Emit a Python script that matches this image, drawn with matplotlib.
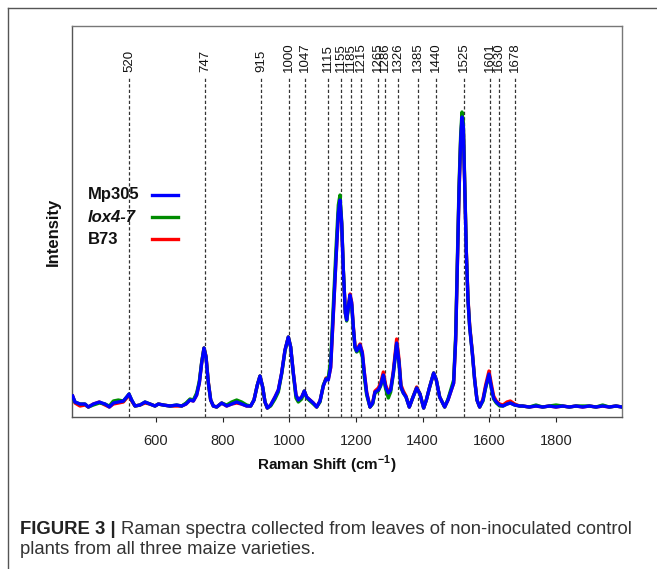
import matplotlib
matplotlib.use("Agg")
import matplotlib.pyplot as plt
from matplotlib.lines import Line2D
import matplotlib.transforms as mtransforms

plt.rcParams["font.family"] = ["Liberation Sans", "DejaVu Sans"]
plt.rcParams["mathtext.fontset"] = "custom"
plt.rcParams["mathtext.rm"] = "Liberation Sans"
plt.rcParams["mathtext.bf"] = "Liberation Sans:bold"

# Raman shift grid (cm-1) and intensities (a.u.)
shift = [350, 357, 372, 387, 397, 412, 430, 447, 460, 472, 487, 502, 512, 519, 527,
         537, 552, 567, 582, 597, 607, 622, 642, 662, 677, 690, 702, 712, 722, 730,
         737, 744, 750, 757, 764, 772, 782, 797, 812, 827, 842, 857, 872, 884, 894,
         904, 912, 920, 927, 934, 944, 957, 967, 977, 987, 997, 1004, 1012, 1020, 1027,
         1037, 1045, 1052, 1062, 1072, 1082, 1092, 1102, 1110, 1117, 1124, 1132, 1140, 1147, 1152,
         1157, 1162, 1168, 1172, 1177, 1182, 1187, 1192, 1197, 1202, 1212, 1219, 1225, 1232, 1242,
         1250, 1257, 1267, 1274, 1282, 1289, 1297, 1304, 1312, 1322, 1329, 1335, 1342, 1350, 1360,
         1370, 1382, 1392, 1403, 1411, 1421, 1433, 1441, 1451, 1466, 1476, 1486, 1493, 1499, 1504,
         1509, 1514, 1518, 1522, 1526, 1531, 1536, 1541, 1549, 1556, 1563, 1571, 1581, 1589, 1599,
         1606, 1613, 1621, 1631, 1641, 1653, 1663, 1676, 1691, 1700, 1720, 1740, 1760, 1780, 1800,
         1820, 1840, 1860, 1880, 1900, 1920, 1940, 1960, 1980, 1998]

mp305 = [21, 15, 13, 13, 10, 13, 15, 13, 10, 14, 15, 16, 20, 23, 17,
         11, 12, 15, 13, 11, 13, 12, 11, 12, 11, 13, 17, 16, 22, 34,
         54, 69, 60, 34, 17, 11, 10, 14, 11, 13, 15, 13, 11, 11, 17,
         32, 41, 30, 15, 9, 12, 20, 27, 44, 67, 80, 70, 44, 22, 17,
         20, 26, 20, 17, 14, 10, 16, 31, 38, 37, 50, 104, 160, 204, 217,
         194, 147, 104, 97, 110, 122, 114, 90, 70, 66, 72, 64, 44, 24, 10,
         14, 25, 27, 32, 42, 30, 24, 27, 44, 74, 55, 30, 24, 20, 10,
         19, 29, 23, 9, 17, 30, 44, 37, 20, 10, 17, 27, 34, 77, 150,
         224, 277, 300, 290, 234, 164, 117, 90, 64, 37, 17, 10, 17, 30, 43,
         30, 19, 15, 12, 11, 13, 14, 12, 11, 11, 10, 11, 10, 11, 10,
         11, 10, 11, 10, 11, 10, 11, 10, 11, 10]

lox4_7 = [20, 15, 13, 13, 10, 12, 14, 13, 11, 16, 17, 16, 20, 23, 17,
          11, 12, 15, 13, 11, 13, 12, 11, 12, 11, 14, 18, 17, 24, 36,
          55, 69, 60, 34, 17, 11, 10, 14, 12, 15, 17, 15, 12, 11, 17,
          32, 41, 30, 15, 9, 11, 18, 25, 43, 66, 80, 70, 43, 19, 15,
          18, 26, 19, 16, 13, 10, 15, 32, 38, 40, 56, 112, 168, 212, 222,
          196, 148, 104, 96, 108, 120, 112, 88, 69, 65, 68, 60, 40, 22, 10,
          13, 24, 26, 31, 41, 28, 19, 25, 43, 73, 54, 29, 24, 20, 10,
          19, 29, 23, 9, 17, 30, 44, 37, 20, 10, 18, 29, 37, 82, 157,
          230, 282, 305, 295, 236, 165, 117, 90, 64, 37, 17, 10, 16, 29, 42,
          29, 18, 14, 11, 11, 13, 14, 12, 11, 11, 10, 12, 10, 11, 12,
          11, 10, 11, 11, 11, 10, 12, 10, 11, 10]

b73 = [21, 14, 11, 12, 10, 13, 15, 12, 10, 13, 14, 15, 19, 22, 16,
       11, 12, 14, 13, 11, 13, 12, 11, 11, 11, 13, 17, 16, 22, 34,
       54, 69, 61, 35, 17, 11, 10, 14, 11, 13, 14, 13, 11, 11, 17,
       32, 41, 30, 15, 9, 12, 20, 27, 44, 67, 80, 70, 44, 22, 17,
       20, 26, 20, 17, 14, 10, 16, 31, 39, 38, 49, 102, 158, 202, 215,
       193, 147, 104, 98, 111, 123, 115, 91, 71, 67, 73, 65, 45, 25, 10,
       14, 26, 29, 34, 45, 32, 25, 28, 46, 78, 58, 32, 26, 21, 10,
       19, 30, 23, 9, 17, 30, 44, 37, 20, 10, 17, 27, 34, 76, 148,
       222, 275, 298, 290, 236, 166, 119, 92, 65, 38, 17, 10, 18, 32, 46,
       33, 21, 16, 13, 12, 15, 16, 13, 11, 11, 10, 11, 10, 11, 10,
       11, 10, 11, 10, 11, 10, 11, 10, 11, 10]

peaks = [520, 747, 915, 1000, 1047, 1115, 1155, 1185, 1215, 1265, 1286, 1326,
         1385, 1440, 1525, 1601, 1630, 1678]

xticks = [600, 800, 1000, 1200, 1400, 1600, 1800]

fig = plt.figure(figsize=(6.57, 5.69), dpi=100)
ax = fig.add_axes([0.1096, 0.2671, 0.8371, 0.6872])

# peak guide lines + labels
trans = mtransforms.blended_transform_factory(ax.transData, ax.transAxes)
for p in peaks:
    ax.axvline(p, ymin=0, ymax=0.867, color="#333333", lw=0.9,
               linestyle=(0, (2.6, 1.8)), zorder=1)
    ax.text(p, 0.882, str(p), transform=trans, rotation=90, ha="center",
            va="bottom", fontsize=9.5, color="#111111")

# spectra (B73 underneath, Mp305 on top)
ax.plot(shift, b73, color="#ff0000", lw=2.4, solid_joinstyle="round", zorder=2)
ax.plot(shift, lox4_7, color="#009000", lw=2.4, solid_joinstyle="round", zorder=3)
ax.plot(shift, mp305, color="#0000ff", lw=2.4, solid_joinstyle="round", zorder=4)

ax.set_xlim(348, 1998)
ax.set_ylim(0, 391)
ax.set_yticks([])
ax.set_xticks(xticks)
ax.tick_params(axis="x", direction="out", length=3.5, width=0.8, pad=9,
               labelsize=10.5, colors="#222222")
for s in ax.spines.values():
    s.set_color("#777777")
    s.set_linewidth(1.0)
ax.spines["left"].set_color("#555555")
ax.spines["bottom"].set_color("#555555")

# legend drawn by hand: labels left-aligned, short lines to the right
leg_items = [("Mp305", "normal", "#0000ff"), ("lox4-7", "italic", "#008b00"),
             ("B73", "normal", "#ff0000")]
for i, (lab, sty, col) in enumerate(leg_items):
    yy = 0.568 - i * 0.0565
    ax.text(0.029, yy, lab, transform=ax.transAxes, fontsize=12, weight="bold",
            style=sty, va="center", ha="left", color="#111111")
    ax.add_line(Line2D([0.145, 0.193], [yy, yy], transform=ax.transAxes,
                       color=col, lw=2.4))

fig.text(327 / 657, 1 - 465 / 569, r"Raman Shift (cm$^{\mathbf{-1}}$)", ha="center",
         va="center", fontsize=11, weight="bold", color="#111111")
fig.text(53 / 657, 1 - 232 / 569, "Intensity", rotation=90, ha="center", va="center",
         fontsize=12, weight="bold", color="#111111")

# outer frame (only left and top edges visible)
fig.add_artist(Line2D([8 / 657, 8 / 657], [0, 1 - 8 / 569], color="#555555", lw=1.0))
fig.add_artist(Line2D([8 / 657, 1], [1 - 8 / 569, 1 - 8 / 569], color="#555555", lw=1.0))

# caption
t1 = fig.text(20 / 657, 1 - 530 / 569, "FIGURE 3 |", fontsize=13.3, weight="bold",
              va="center", color="#222222")
fig.canvas.draw()
bb = t1.get_window_extent()
fig.text((bb.x1 + 5) / 657, 1 - 530 / 569,
         "Raman spectra collected from leaves of non-inoculated control",
         fontsize=13.3, va="center", color="#333333")
fig.text(20 / 657, 1 - 549 / 569, "plants from all three maize varieties.",
         fontsize=13.3, va="center", color="#333333")

fig.savefig("out.png", dpi=100)
